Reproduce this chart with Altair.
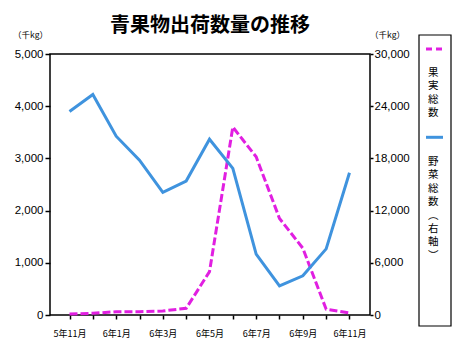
import json
import altair as alt
import pandas as pd

months = ["5年11月", "5年12月", "6年1月", "6年2月", "6年3月", "6年4月", "6年5月",
          "6年6月", "6年7月", "6年8月", "6年9月", "6年10月", "6年11月"]
fruit = [20, 32, 63, 63, 77, 128, 830, 3600, 3030, 1850, 1280, 110, 40]
veg = [23400, 25350, 20550, 17800, 14100, 15400, 20200, 16850, 7000, 3350, 4500, 7600, 16350]

left_ticks = [0, 1000, 2000, 3000, 4000, 5000]
right_ticks = [0, 6000, 12000, 18000, 24000, 30000]

MAGENTA = "#E11FE1"
BLUE = "#3F93DE"
JP = "Noto Sans CJK JP"
NUM = "Liberation Sans"

df = pd.DataFrame({"idx": list(range(len(months))), "month": months,
                   "fruit": fruit, "veg": veg})

label_expr = (f"datum.value % 2 == 0 ? {json.dumps(months, ensure_ascii=False)}"
              f"[datum.value] : ''")

x_enc = alt.X(
    "idx:Q",
    scale=alt.Scale(domain=[-0.836, 12.879], nice=False, zero=False),
    axis=alt.Axis(values=list(range(len(months))), labelExpr=label_expr, title=None,
                  grid=False, domain=False, tickColor="black", tickSize=4,
                  tickWidth=1.5, labelFont=JP, labelFontSize=9, labelPadding=10,
                  labelColor="black", labelOverlap=False),
)

base = alt.Chart(df)

fruit_line = base.mark_line(color=MAGENTA, strokeWidth=3, strokeDash=[8, 3]).encode(
    x=x_enc,
    y=alt.Y("fruit:Q", scale=alt.Scale(domain=[0, 5000], nice=False),
            axis=alt.Axis(values=left_ticks, format=",.0f", orient="left", grid=False,
                          domain=False, tickColor="black", tickSize=5, tickWidth=1.5,
                          labelFont=NUM, labelFontSize=11.5, labelPadding=2,
                          labelColor="black", title="（千kg）", titleAngle=0,
                          titleX=-20, titleY=-20, titleAlign="center",
                          titleBaseline="middle", titleFont=JP, titleFontSize=8.5,
                          titleFontWeight="normal", titleColor="black")),
)

veg_line = base.mark_line(color=BLUE, strokeWidth=3).encode(
    x=x_enc,
    y=alt.Y("veg:Q", scale=alt.Scale(domain=[0, 30000], nice=False),
            axis=alt.Axis(values=right_ticks, format=",.0f", orient="right", grid=False,
                          domain=False, tickColor="black", tickSize=3, tickWidth=1.5,
                          labelFont=NUM, labelFontSize=11.5, labelPadding=1,
                          labelColor="black", title="（千kg）", titleAngle=0,
                          titleX=17, titleY=-20, titleAlign="center",
                          titleBaseline="middle", titleFont=JP, titleFontSize=8.5,
                          titleFontWeight="normal", titleColor="black")),
)

one = alt.Data(values=[{"k": 1}])

legend_box = alt.Chart(one).mark_rect(fill="white", stroke="black", strokeWidth=1.2).encode(
    x=alt.value(369), x2=alt.value(401), y=alt.value(-19), y2=alt.value(272))
leg_fruit = alt.Chart(one).mark_rule(color=MAGENTA, strokeWidth=3, strokeDash=[6, 4]).encode(
    x=alt.value(376), x2=alt.value(393), y=alt.value(-5))
leg_veg = alt.Chart(one).mark_rule(color=BLUE, strokeWidth=3).encode(
    x=alt.value(376), x2=alt.value(393), y=alt.value(83.3))
leg_fruit_txt = alt.Chart(one).mark_text(
    text=["果", "実", "総", "数"], font=JP, fontSize=10.5, lineHeight=13.4,
    align="center", baseline="alphabetic", color="black").encode(
    x=alt.value(383.3), y=alt.value(22))
leg_veg_txt = alt.Chart(one).mark_text(
    text=["野", "菜", "総", "数", "︵", "右", "軸", "︶"], font=JP, fontSize=10.5,
    lineHeight=13.4, align="center", baseline="alphabetic", color="black").encode(
    x=alt.value(383.3), y=alt.value(111))

chart = alt.layer(
    fruit_line, veg_line, legend_box, leg_fruit, leg_veg, leg_fruit_txt, leg_veg_txt
).resolve_scale(y="independent").properties(
    width=320, height=261,
    autosize="none",
    background="white",
    padding={"left": 42, "top": 46, "right": 90, "bottom": 30},
    title=alt.TitleParams("青果物出荷数量の推移", font=JP, fontSize=20, fontWeight="bold",
                          anchor="middle", frame="group", baseline="alphabetic",
                          offset=-21.5, color="black"),
).configure_view(stroke="black", strokeWidth=1.5)

chart.save("out.html", embed_options={"renderer": "svg", "actions": False})
